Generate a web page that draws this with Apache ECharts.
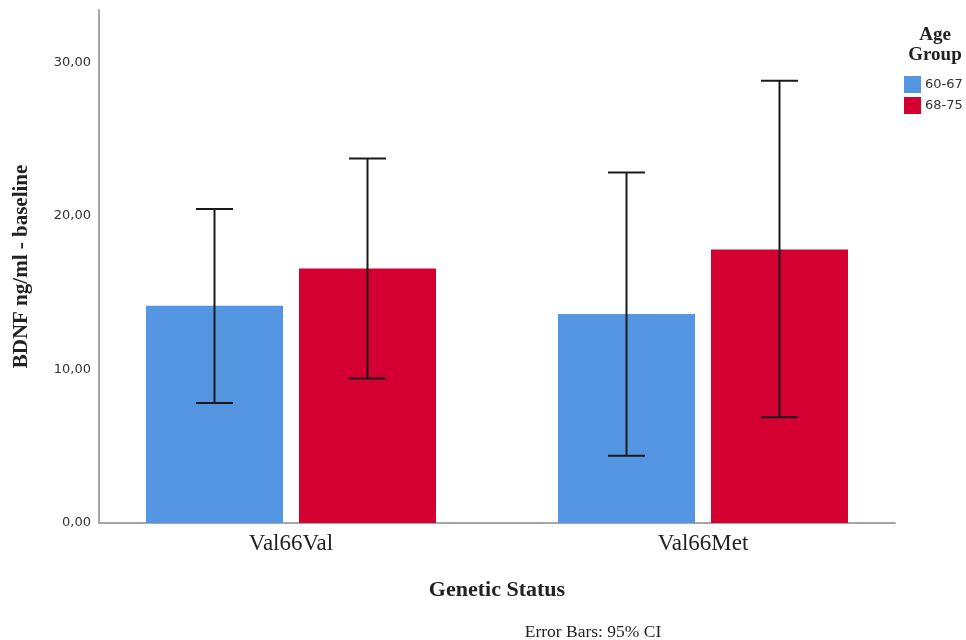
<!DOCTYPE html>
<html>
<head>
<meta charset="utf-8">
<title>BDNF by genetic status and age group</title>
<script src="https://cdn.jsdelivr.net/npm/echarts@6/dist/echarts.min.js"></script>
<style>
  html, body { margin: 0; padding: 0; background: #fff; }
  #chart { width: 966px; height: 640px; }
</style>
</head>
<body>
<div id="chart"></div>
<script>
// Categories and groups
const categories = ['Val66Val', 'Val66Met'];
const groups = ['60-67', '68-75'];

// Mean BDNF (ng/ml) per group, with 95% CI bounds
const means6067 = [14.14, 13.60];
const means6875 = [16.57, 17.81];
const ciLow6067 = [7.81, 4.38];
const ciHigh6067 = [20.45, 22.82];
const ciLow6875 = [9.41, 6.88];
const ciHigh6875 = [23.73, 28.80];

// Y axis ticks
const yTicks = [0, 10, 20, 30];

const colors = ['#5596e3', '#d50032'];
const BAR_W = 137;
const BAR_GAP = 16;
const Y_MAX = 33.4;

const serif = '"Liberation Serif", "DejaVu Serif", serif';
const sans = '"DejaVu Sans", sans-serif';

function errorSeries(name, lows, highs, sign) {
  return {
    name: name,
    type: 'custom',
    xAxisIndex: 0,
    yAxisIndex: 0,
    silent: true,
    z: 10,
    data: lows.map((lo, i) => [i, lo, highs[i]]),
    renderItem: function (params, api) {
      const idx = api.value(0);
      const base = api.coord([idx, api.value(1)]);
      const top = api.coord([idx, api.value(2)]);
      const x = base[0] + sign * (BAR_W / 2 + BAR_GAP / 2);
      const cap = 18.5;
      const style = { stroke: '#1a1a1a', lineWidth: 2 };
      return {
        type: 'group',
        children: [
          { type: 'line', shape: { x1: x, y1: top[1], x2: x, y2: base[1] }, style: style },
          { type: 'line', shape: { x1: x - cap, y1: top[1], x2: x + cap, y2: top[1] }, style: style },
          { type: 'line', shape: { x1: x - cap, y1: base[1], x2: x + cap, y2: base[1] }, style: style }
        ]
      };
    }
  };
}

const chart = echarts.init(document.getElementById('chart'), null, { renderer: 'canvas' });

chart.setOption({
  animation: false,
  color: colors,
  title: [
    {
      text: 'Age\nGroup',
      left: 930, top: 20, textAlign: 'center',
      textStyle: { fontFamily: serif, fontWeight: 'bold', fontSize: 19, lineHeight: 20, color: '#222' }
    },
    {
      text: 'Error Bars: 95% CI',
      left: 588, top: 618, textAlign: 'center',
      textStyle: { fontFamily: serif, fontWeight: 'normal', fontSize: 17.5, color: '#222' }
    }
  ],
  legend: {
    data: groups,
    orient: 'vertical',
    left: 904, top: 76,
    padding: 0,
    itemWidth: 17, itemHeight: 17, itemGap: 4,
    icon: 'rect',
    textStyle: { fontFamily: sans, fontSize: 13, color: '#333', padding: [0, 0, 0, -1] }
  },
  grid: [
    { left: 85, right: 57, top: 10, bottom: 117 },
    { left: 99, right: 71, top: 10, bottom: 117 }
  ],
  xAxis: [
    {
      type: 'category', gridIndex: 0, data: categories,
      axisLine: { show: false }, axisTick: { show: false },
      axisLabel: { fontFamily: serif, fontSize: 23, color: '#222', margin: 9 }
    },
    {
      type: 'value', gridIndex: 1, min: 0, max: 1,
      name: 'Genetic Status', nameLocation: 'middle', nameGap: 56,
      nameTextStyle: { fontFamily: serif, fontWeight: 'bold', fontSize: 22, color: '#222' },
      axisLine: { show: true, lineStyle: { color: '#a6a6a6', width: 2 } },
      axisTick: { show: false }, axisLabel: { show: false }, splitLine: { show: false }
    }
  ],
  yAxis: [
    { type: 'value', gridIndex: 0, min: 0, max: Y_MAX, show: false, splitLine: { show: false } },
    {
      type: 'value', gridIndex: 1, min: 0, max: Y_MAX, interval: 10,
      name: 'BDNF ng/ml - baseline', nameLocation: 'middle', nameGap: 67, nameRotate: 90,
      nameTextStyle: { fontFamily: serif, fontWeight: 'bold', fontSize: 21, color: '#222' },
      axisLine: { show: true, lineStyle: { color: '#a6a6a6', width: 2 } },
      axisTick: { show: false },
      splitLine: { show: false },
      axisLabel: {
        fontFamily: sans, fontSize: 13, color: '#333', margin: 8,
        formatter: v => yTicks.includes(v) ? v.toFixed(2).replace('.', ',') : ''
      }
    }
  ],
  series: [
    {
      name: groups[0], type: 'bar', xAxisIndex: 0, yAxisIndex: 0,
      data: means6067, barWidth: BAR_W, barGap: (BAR_GAP / BAR_W * 100) + '%',
      itemStyle: { color: colors[0] }
    },
    {
      name: groups[1], type: 'bar', xAxisIndex: 0, yAxisIndex: 0,
      data: means6875, barWidth: BAR_W, barGap: (BAR_GAP / BAR_W * 100) + '%',
      itemStyle: { color: colors[1] }
    },
    errorSeries('ci-60-67', ciLow6067, ciHigh6067, -1),
    errorSeries('ci-68-75', ciLow6875, ciHigh6875, 1)
  ]
});
</script>
</body>
</html>
